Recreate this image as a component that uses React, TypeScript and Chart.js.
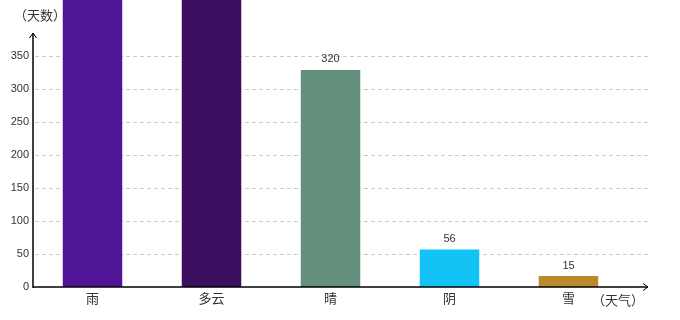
import React, { useEffect, useRef } from "react";
import { Chart, registerables } from "chart.js";

Chart.register(...registerables);

// categories (weather)
const categories: string[] = ["雨", "多云", "晴", "阴", "雪"];
// bar heights as drawn against the y axis (first two run past the top of the plot)
const values: number[] = [480, 470, 329, 57, 16.5];
// numbers printed above the bars
const valueLabels: string[] = ["", "", "320", "56", "15"];
const barColors: string[] = ["#501597", "#3b0e5f", "#63917d", "#13c3f5", "#bc8a2b"];
// y ticks shown
const yTicks: number[] = [0, 50, 100, 150, 200, 250, 300, 350];
const yTitle = "（天数）";
const xTitle = "（天气）";

const NUM_FONT = "11px 'Liberation Sans', Arial, sans-serif";
const CJK_FONT = "13px 'Noto Sans CJK SC', sans-serif";

export default function App() {
  const ref = useRef<HTMLCanvasElement | null>(null);

  useEffect(() => {
    document.body.style.margin = "0";
    const canvas = ref.current;
    if (!canvas) return;

    const decor = {
      id: "decor",
      beforeDatasetsDraw(chart: any) {
        const { ctx, chartArea, scales } = chart;
        const y = scales.y;
        ctx.save();
        ctx.strokeStyle = "#cccccc";
        ctx.lineWidth = 1;
        ctx.setLineDash([4, 3]);
        yTicks.forEach((v) => {
          if (v === 0) return;
          const py = Math.round(y.getPixelForValue(v)) + 0.5;
          ctx.beginPath();
          ctx.moveTo(chartArea.left + 2, py);
          ctx.lineTo(chartArea.right + 20, py);
          ctx.stroke();
        });
        ctx.restore();
      },
      afterDatasetsDraw(chart: any) {
        const { ctx, chartArea, scales } = chart;
        const y = scales.y;
        const x0 = chartArea.left;
        const y0 = y.getPixelForValue(0);
        const yTop = 33;
        const xEnd = chartArea.right + 20;
        ctx.save();
        ctx.setLineDash([]);
        ctx.strokeStyle = "#000";
        ctx.lineWidth = 1.5;
        // y axis
        ctx.beginPath();
        ctx.moveTo(x0, y0 + 1);
        ctx.lineTo(x0, yTop);
        ctx.stroke();
        ctx.lineWidth = 1;
        ctx.beginPath();
        ctx.moveTo(x0 - 3.5, yTop + 5);
        ctx.lineTo(x0, yTop);
        ctx.lineTo(x0 + 3.5, yTop + 5);
        ctx.stroke();
        // x axis
        ctx.lineWidth = 1.5;
        ctx.beginPath();
        ctx.moveTo(x0, y0);
        ctx.lineTo(xEnd, y0);
        ctx.stroke();
        ctx.lineWidth = 1;
        ctx.beginPath();
        ctx.moveTo(xEnd - 5, y0 - 3.5);
        ctx.lineTo(xEnd, y0);
        ctx.lineTo(xEnd - 5, y0 + 3.5);
        ctx.stroke();

        // value labels
        const meta = chart.getDatasetMeta(0);
        ctx.fillStyle = "#333";
        ctx.font = NUM_FONT;
        ctx.textAlign = "center";
        ctx.textBaseline = "middle";
        meta.data.forEach((bar: any, i: number) => {
          const t = valueLabels[i];
          if (!t) return;
          ctx.fillText(t, bar.x, bar.y - 10.5);
        });

        // axis titles
        ctx.font = CJK_FONT;
        ctx.fillText(yTitle, 40, 15);
        ctx.fillText(xTitle, 618, 300);
        ctx.restore();
      },
    };

    const chart = new Chart(canvas, {
      type: "bar",
      data: {
        labels: categories,
        datasets: [
          {
            data: values,
            backgroundColor: barColors,
            borderWidth: 0,
            barPercentage: 0.5,
            categoryPercentage: 1,
          },
        ],
      },
      options: {
        responsive: false,
        animation: false,
        devicePixelRatio: 1,
        layout: { padding: { left: 0, right: 52, top: 0, bottom: 0 } },
        plugins: {
          legend: { display: false },
          tooltip: { enabled: false },
        },
        scales: {
          x: {
            grid: { display: false, drawTicks: false },
            border: { display: false },
            ticks: {
              color: "#333",
              font: { family: "'Noto Sans CJK SC', sans-serif", size: 13 },
              padding: 3,
              maxRotation: 0,
              autoSkip: false,
            },
            afterFit: (s: any) => {
              s.height = 33;
              s.paddingLeft = 0;
              s.paddingRight = 0;
            },
          },
          y: {
            min: 0,
            max: 435,
            grid: { display: false, drawTicks: false },
            border: { display: false },
            ticks: {
              stepSize: 50,
              includeBounds: false,
              color: "#333",
              font: { family: "'Liberation Sans', Arial, sans-serif", size: 11 },
              padding: 4,
              callback: (v: any) => (yTicks.includes(Number(v)) ? String(v) : ""),
            },
            afterFit: (s: any) => {
              s.width = 33;
              s.paddingTop = 0;
              s.paddingBottom = 0;
            },
          },
        },
      },
      plugins: [decor],
    });

    return () => chart.destroy();
  }, []);

  return (
    <div style={{ width: 680, height: 320, background: "#fff" }}>
      <canvas ref={ref} width={680} height={320} style={{ display: "block" }} />
    </div>
  );
}
